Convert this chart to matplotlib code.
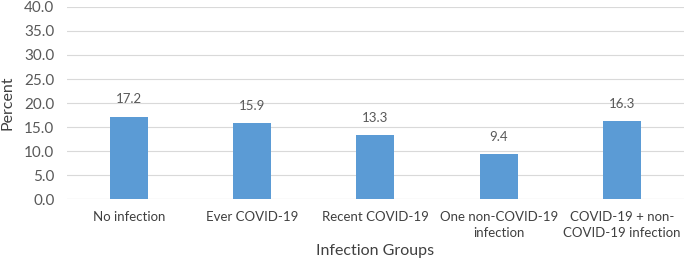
import matplotlib
matplotlib.use("Agg")
import matplotlib.pyplot as plt

categories = ["No infection", "Ever COVID-19", "Recent COVID-19",
              "One non-COVID-19\ninfection", "COVID-19 + non-\nCOVID-19 infection"]
values = [17.2, 15.9, 13.3, 9.4, 16.3]
yticks = [0, 5, 10, 15, 20, 25, 30, 35, 40]

plt.rcParams["font.family"] = ["Lato", "DejaVu Sans"]
txt = "#595959"

fig = plt.figure(figsize=(6.86, 2.61), dpi=100)
ax = fig.add_axes([0.0977, 0.236, 0.899, 0.738])

x = range(len(categories))
bars = ax.bar(x, values, width=0.31, color="#5B9BD5", zorder=3)
for b, v in zip(bars, values):
    ax.annotate(f"{v:.1f}", (b.get_x() + b.get_width() / 2, v),
                xytext=(0, 8), textcoords="offset points",
                ha="center", va="bottom", fontsize=9.5, color=txt)

ax.set_xlim(-0.5, len(categories) - 0.5)
ax.set_ylim(0, 40)
ax.set_yticks(yticks)
ax.set_yticklabels([f"{t:.1f}" for t in yticks], fontsize=11, color=txt)
ax.set_xticks(list(x))
ax.set_xticklabels(categories, fontsize=9.5, color="#404040", linespacing=1.4)
ax.grid(axis="y", color="#D9D9D9", linewidth=0.8, zorder=0)
ax.tick_params(axis="y", length=0, pad=9)
ax.tick_params(axis="x", length=0, pad=8)
for s in ax.spines.values():
    s.set_visible(False)
ax.axhline(0, color="#D9D9D9", linewidth=0.8, zorder=2)

ax.set_ylabel("Percent", fontsize=11.5, color="#404040", labelpad=7)
ax.set_xlabel("Infection Groups", fontsize=11.5, color="#404040", labelpad=4)

fig.savefig("out.png", dpi=100)
